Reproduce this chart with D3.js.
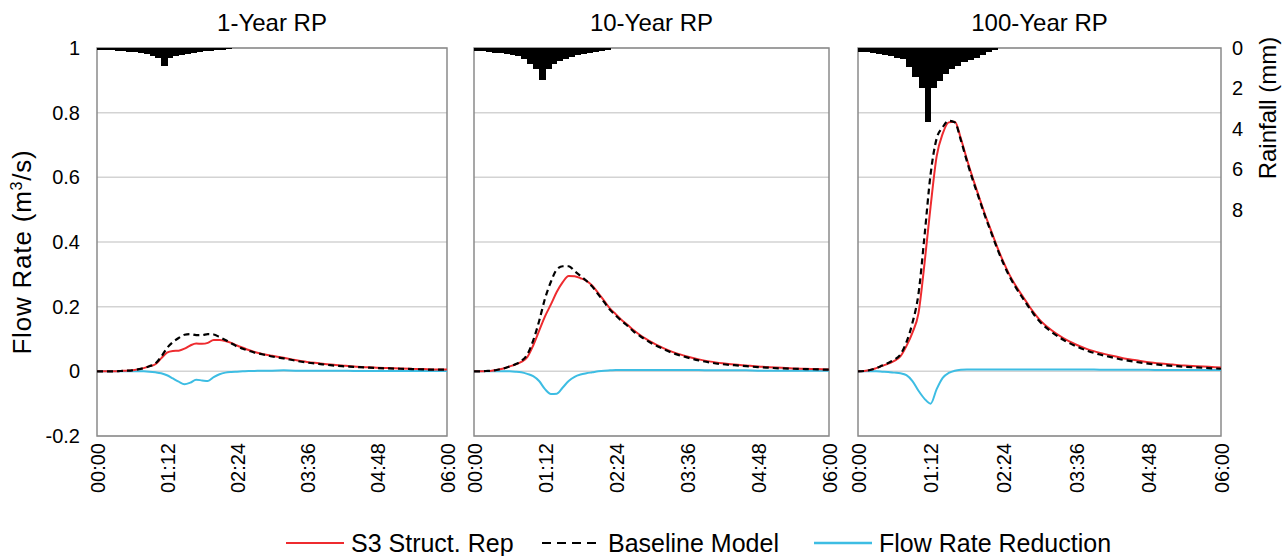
<!DOCTYPE html>
<html><head><meta charset="utf-8">
<script src="https://cdn.jsdelivr.net/npm/d3@7"></script>
<style>body{margin:0;background:#fff}svg{display:block;font-family:"Liberation Sans",Arial,Helvetica,sans-serif}</style>
</head><body><svg id="c" width="1287" height="556"></svg>
<script>
const panelTitles = ["1-Year RP", "10-Year RP", "100-Year RP"];
const timeTicks = [0, 72, 144, 216, 288, 360];
const timeTickLabels = ["00:00", "01:12", "02:24", "03:36", "04:48", "06:00"];
const flowTicks = [-0.2, 0, 0.2, 0.4, 0.6, 0.8, 1];
const flowTickLabels = ["-0.2", "0", "0.2", "0.4", "0.6", "0.8", "1"];
const rainTicks = [0, 2, 4, 6, 8];
const seriesNames = ["S3 Struct. Rep", "Baseline Model", "Flow Rate Reduction"];

// rainfall (mm) per 6-minute interval (interval start, minutes)
const rainTimes = [0,6,12,18,24,30,36,42,48,54,60,66,72,78,84,90,96,102,108,114,120,126,132];
const rain1 = [0.08,0.1,0.12,0.14,0.16,0.18,0.21,0.25,0.3,0.4,0.5,0.9,0.5,0.4,0.33,0.28,0.24,0.2,0.17,0.14,0.11,0.08,0.05];
const rain2 = [0.15,0.17,0.2,0.23,0.26,0.3,0.35,0.4,0.55,0.8,1.05,1.6,1.05,0.8,0.63,0.52,0.43,0.36,0.3,0.25,0.2,0.15,0.1];
const rain3 = [0.2,0.22,0.25,0.3,0.35,0.4,0.5,0.55,0.95,1.45,2.0,3.65,2.0,1.65,1.3,1.05,0.9,0.7,0.6,0.5,0.35,0.2,0.1];

// flow time (minutes)
const flowTimes = [0,6,12,18,24,30,36,42,48,54,60,66,72,78,84,90,96,102,108,114,120,126,132,138,144,150,156,162,168,174,180,
  192,204,216,228,240,252,264,276,288,300,312,324,336,348,360];

const base1 = [0,0,0,0,0.001,0.002,0.003,0.006,0.01,0.016,0.024,0.045,0.072,0.09,0.103,0.113,0.115,0.112,0.112,0.115,0.114,0.106,0.097,0.087,0.077,0.07,0.064,0.058,0.054,0.05,0.046,
  0.04,0.033,0.027,0.023,0.019,0.016,0.014,0.012,0.01,0.009,0.008,0.007,0.006,0.005,0.005];
const rep1 = [0,0,0,0,0.001,0.002,0.003,0.006,0.01,0.016,0.022,0.04,0.058,0.063,0.064,0.07,0.08,0.086,0.085,0.088,0.097,0.097,0.094,0.088,0.08,0.073,0.066,0.06,0.055,0.051,0.048,
  0.042,0.035,0.029,0.025,0.021,0.018,0.015,0.013,0.011,0.01,0.009,0.008,0.007,0.006,0.006];
const red1 = [0,0,0,0,0,0,0,0,0,-0.001,-0.003,-0.006,-0.012,-0.022,-0.032,-0.04,-0.035,-0.026,-0.028,-0.03,-0.018,-0.009,-0.004,-0.002,-0.001,0,0.001,0.001,0.002,0.002,0.002,
  0.003,0.002,0.002,0.002,0.002,0.002,0.001,0.001,0.001,0.001,0.001,0.001,0.001,0.001,0.001];

const base2 = [0,0,0.001,0.002,0.005,0.009,0.015,0.022,0.032,0.052,0.095,0.155,0.225,0.277,0.315,0.325,0.325,0.31,0.295,0.28,0.262,0.238,0.214,0.19,0.172,0.155,0.14,0.123,0.11,0.098,0.087,
  0.069,0.054,0.043,0.034,0.027,0.022,0.019,0.016,0.013,0.011,0.009,0.008,0.007,0.006,0.005];
const rep2 = [0,0,0.001,0.002,0.005,0.009,0.015,0.021,0.029,0.044,0.08,0.125,0.17,0.207,0.246,0.276,0.295,0.294,0.288,0.28,0.265,0.242,0.218,0.194,0.176,0.158,0.143,0.127,0.113,0.101,0.09,
  0.072,0.057,0.046,0.037,0.03,0.025,0.021,0.018,0.015,0.013,0.011,0.009,0.008,0.007,0.006];
const red2 = [0,0,0,0,0,0,0,-0.001,-0.003,-0.008,-0.015,-0.03,-0.055,-0.07,-0.069,-0.05,-0.03,-0.017,-0.01,-0.006,-0.003,0,0.002,0.003,0.004,0.004,0.004,0.004,0.004,0.004,0.004,
  0.004,0.004,0.004,0.004,0.003,0.003,0.003,0.003,0.002,0.002,0.002,0.002,0.002,0.002,0.002];

const base3 = [0,0.001,0.004,0.01,0.018,0.026,0.036,0.052,0.09,0.15,0.24,0.42,0.61,0.72,0.755,0.775,0.77,0.715,0.65,0.59,0.535,0.48,0.43,0.38,0.335,0.295,0.262,0.233,0.205,0.178,0.155,
  0.122,0.097,0.078,0.063,0.052,0.043,0.035,0.029,0.024,0.02,0.017,0.014,0.012,0.01,0.008];
const rep3 = [0,0.001,0.004,0.01,0.017,0.024,0.032,0.046,0.078,0.12,0.18,0.335,0.51,0.665,0.735,0.77,0.772,0.72,0.656,0.596,0.54,0.485,0.435,0.385,0.34,0.3,0.267,0.238,0.21,0.183,0.16,
  0.127,0.102,0.083,0.068,0.057,0.048,0.04,0.034,0.028,0.024,0.021,0.018,0.016,0.014,0.012];
const red3 = [0,0,0,0,-0.001,-0.002,-0.004,-0.006,-0.012,-0.03,-0.06,-0.085,-0.1,-0.055,-0.02,-0.005,0.002,0.005,0.006,0.006,0.006,0.006,0.006,0.006,0.006,0.006,0.006,0.006,0.006,0.006,0.006,
  0.006,0.006,0.006,0.006,0.005,0.005,0.005,0.005,0.005,0.004,0.004,0.004,0.004,0.004,0.004];

const panelRain = [rain1, rain2, rain3];
const panelBase = [base1, base2, base3];
const panelRep = [rep1, rep2, rep3];
const panelRed = [red1, red2, red3];

// ---------- layout ----------
const svg = d3.select("#c");
const TOP = 48, BOTTOM = 436;
const panels = [{x0: 97, x1: 447}, {x0: 474, x1: 829}, {x0: 858, x1: 1221}];
const colors = {rep: "#ee2b2f", base: "#000000", red: "#3dbde3", grid: "#d3d3d3", frame: "#8a8a8a"};
const yFlow = d3.scaleLinear().domain([-0.2, 1]).range([BOTTOM, TOP]);
const yRain = d3.scaleLinear().domain([0, 19.2]).range([TOP, BOTTOM]);
const FONT = "Liberation Sans, Arial, sans-serif";

panels.forEach((p, i) => {
  const x = d3.scaleLinear().domain([0, 360]).range([p.x0, p.x1]);
  const g = svg.append("g");
  const clipId = "clip" + i;
  svg.append("clipPath").attr("id", clipId).append("rect")
    .attr("x", p.x0).attr("y", TOP).attr("width", p.x1 - p.x0).attr("height", BOTTOM - TOP);

  // gridlines
  g.selectAll("line.grid").data(flowTicks).join("line")
    .attr("x1", p.x0).attr("x2", p.x1)
    .attr("y1", d => yFlow(d)).attr("y2", d => yFlow(d))
    .attr("stroke", colors.grid).attr("stroke-width", 1.5);

  // frame
  g.append("rect").attr("x", p.x0).attr("y", TOP).attr("width", p.x1 - p.x0).attr("height", BOTTOM - TOP)
    .attr("fill", "none").attr("stroke", colors.frame).attr("stroke-width", 1.5);

  // rainfall bars (hanging from top)
  const rain = panelRain[i];
  g.append("g").attr("clip-path", `url(#${clipId})`).attr("shape-rendering", "crispEdges")
    .selectAll("rect").data(rainTimes).join("rect")
    .attr("x", t => x(t))
    .attr("width", t => x(t + 6) - x(t) + 0.6)
    .attr("y", yRain(0))
    .attr("height", (t, k) => yRain(rain[k]) - yRain(0))
    .attr("fill", "#000");

  const mk = arr => d3.line().x((d, k) => x(flowTimes[k])).y(d => yFlow(d)).curve(d3.curveMonotoneX)(arr);
  g.append("path").attr("d", mk(panelRed[i])).attr("fill", "none").attr("stroke", colors.red).attr("stroke-width", 2);
  g.append("path").attr("d", mk(panelRep[i])).attr("fill", "none").attr("stroke", colors.rep).attr("stroke-width", 2);
  g.append("path").attr("d", mk(panelBase[i])).attr("fill", "none").attr("stroke", colors.base)
    .attr("stroke-width", 2.2).attr("stroke-dasharray", "6,4");

  // x axis
  const xa = g.append("g").attr("transform", `translate(0,${BOTTOM})`)
    .call(d3.axisBottom(x).tickValues(timeTicks).tickFormat((d, k) => timeTickLabels[k]).tickSize(0));
  xa.select(".domain").remove();
  xa.selectAll("text").attr("transform", "rotate(-90)").attr("x", -7).attr("y", 0).attr("dy", "0.36em")
    .style("text-anchor", "end").style("font-size", "20px").style("font-family", FONT).attr("fill", "#000");

  // title
  svg.append("text").attr("x", (p.x0 + p.x1) / 2).attr("y", 31).attr("text-anchor", "middle")
    .style("font-size", "24px").text(panelTitles[i]);

  if (i === 0) {
    const ya = g.append("g").attr("transform", `translate(${p.x0},0)`)
      .call(d3.axisLeft(yFlow).tickValues(flowTicks).tickFormat((d, k) => flowTickLabels[k]).tickSize(0).tickPadding(17));
    ya.select(".domain").remove();
    ya.selectAll("text").style("font-size", "20px").style("font-family", FONT).attr("fill", "#000");
    svg.append("text").attr("transform", "translate(31,252) rotate(-90)").attr("text-anchor", "middle")
      .style("font-size", "26px").style("letter-spacing", "0.8px")
      .html("Flow Rate (m<tspan font-size='16px' dy='-9'>3</tspan><tspan dy='9'>/s)</tspan>");
  }
  if (i === 2) {
    const ra = g.append("g").attr("transform", `translate(${p.x1},0)`)
      .call(d3.axisRight(yRain).tickValues(rainTicks).tickSize(0).tickPadding(11));
    ra.select(".domain").remove();
    ra.selectAll("text").style("font-size", "20px").style("font-family", FONT).attr("fill", "#000");
    svg.append("text").attr("transform", "translate(1276,108) rotate(-90)").attr("text-anchor", "middle")
      .style("font-size", "24px").text("Rainfall (mm)");
  }
});

// legend
const legY = 543;
const legItems = [
  {x: 286, tx: 351, color: colors.rep, dash: null, w: 2.2},
  {x: 542, tx: 608, color: colors.base, dash: "9,6", w: 2.2},
  {x: 814, tx: 879, color: colors.red, dash: null, w: 2.5}
];
legItems.forEach((it, k) => {
  svg.append("line").attr("x1", it.x).attr("x2", it.x + 58).attr("y1", legY).attr("y2", legY)
    .attr("stroke", it.color).attr("stroke-width", it.w).attr("stroke-dasharray", it.dash);
  svg.append("text").attr("x", it.tx).attr("y", legY).attr("dy", "0.36em").style("font-size", "25px").text(seriesNames[k]);
});
</script></body></html>
